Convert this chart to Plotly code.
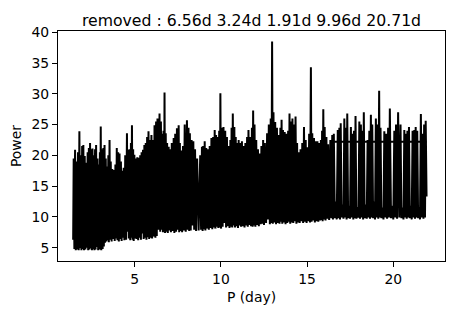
import plotly.graph_objects as go

# periodogram: alternating dips and peaks of the power curve
period_day = [
    1.43, 1.46, 1.50, 1.54, 1.58, 1.62, 1.66, 1.71, 1.75, 1.79, 1.83, 1.87, 1.91, 1.95, 1.98, 2.02,
    2.06, 2.10, 2.14, 2.18, 2.22, 2.27, 2.30, 2.34, 2.38, 2.41, 2.44, 2.48, 2.52, 2.55, 2.59, 2.63,
    2.66, 2.70, 2.73, 2.76, 2.80, 2.84, 2.88, 2.92, 2.95, 2.98, 3.00, 3.03, 3.06, 3.10, 3.14, 3.18,
    3.21, 3.25, 3.28, 3.32, 3.36, 3.40, 3.43, 3.47, 3.50, 3.54, 3.58, 3.61, 3.66, 3.70, 3.75, 3.80,
    3.84, 3.88, 3.92, 3.96, 4.00, 4.04, 4.08, 4.12, 4.16, 4.20, 4.24, 4.28, 4.32, 4.36, 4.40, 4.45,
    4.50, 4.55, 4.59, 4.63, 4.66, 4.70, 4.74, 4.78, 4.81, 4.84, 4.88, 4.91, 4.94, 4.98, 5.02, 5.07,
    5.11, 5.15, 5.20, 5.24, 5.28, 5.32, 5.36, 5.40, 5.44, 5.48, 5.52, 5.56, 5.60, 5.64, 5.68, 5.72,
    5.76, 5.80, 5.84, 5.88, 5.92, 5.97, 6.01, 6.05, 6.10, 6.15, 6.20, 6.24, 6.28, 6.32, 6.38, 6.44,
    6.48, 6.52, 6.56, 6.60, 6.64, 6.67, 6.70, 6.73, 6.76, 6.80, 6.84, 6.88, 6.92, 6.97, 7.01, 7.05,
    7.10, 7.15, 7.20, 7.26, 7.30, 7.35, 7.40, 7.45, 7.50, 7.55, 7.58, 7.62, 7.66, 7.70, 7.75, 7.80,
    7.85, 7.90, 7.96, 8.03, 8.08, 8.12, 8.16, 8.20, 8.25, 8.30, 8.35, 8.40, 8.45, 8.50, 8.56, 8.62,
    8.71, 8.80, 8.85, 8.90, 8.94, 8.97, 9.02, 9.06, 9.10, 9.15, 9.20, 9.25, 9.30, 9.35, 9.40, 9.45,
    9.50, 9.55, 9.60, 9.64, 9.68, 9.72, 9.76, 9.80, 9.85, 9.90, 9.94, 9.97, 10.01, 10.05, 10.10, 10.15,
    10.20, 10.25, 10.30, 10.35, 10.40, 10.45, 10.50, 10.55, 10.59, 10.62, 10.66, 10.69, 10.74, 10.78, 10.82, 10.86,
    10.90, 10.95, 10.99, 11.03, 11.08, 11.12, 11.17, 11.22, 11.27, 11.32, 11.37, 11.42, 11.47, 11.52, 11.56, 11.60,
    11.65, 11.70, 11.75, 11.80, 11.84, 11.87, 11.91, 11.95, 12.00, 12.05, 12.10, 12.15, 12.20, 12.25, 12.30, 12.35,
    12.40, 12.45, 12.50, 12.55, 12.62, 12.68, 12.73, 12.78, 12.84, 12.89, 12.93, 12.97, 13.01, 13.05, 13.10, 13.15,
    13.20, 13.25, 13.30, 13.35, 13.40, 13.45, 13.49, 13.52, 13.56, 13.60, 13.65, 13.70, 13.75, 13.80, 13.85, 13.90,
    13.94, 13.98, 14.02, 14.06, 14.10, 14.15, 14.20, 14.25, 14.29, 14.33, 14.38, 14.42, 14.47, 14.52, 14.57, 14.62,
    14.67, 14.72, 14.77, 14.82, 14.87, 14.92, 14.97, 15.02, 15.07, 15.12, 15.17, 15.22, 15.26, 15.30, 15.35, 15.40,
    15.45, 15.50, 15.55, 15.60, 15.65, 15.70, 15.75, 15.80, 15.84, 15.87, 15.90, 15.94, 15.98, 16.02, 16.07, 16.12,
    16.17, 16.22, 16.28, 16.35, 16.40, 16.46, 16.50, 16.55,
    16.61, 16.665, 16.72, 16.78, 16.83, 16.87, 16.91, 16.95,
    17.00, 17.055, 17.11, 17.16, 17.20, 17.25, 17.29, 17.33,
    17.38, 17.43, 17.49, 17.54, 17.59, 17.64, 17.68, 17.72, 17.77, 17.81,
    17.86, 17.92, 17.98, 18.03, 18.07, 18.12, 18.16, 18.20, 18.25, 18.29,
    18.34, 18.40, 18.46, 18.51, 18.56, 18.61, 18.65, 18.70, 18.74, 18.78,
    18.83, 18.885, 18.94, 18.99, 19.03, 19.08, 19.13, 19.18, 19.22, 19.26,
    19.31, 19.37, 19.43, 19.48, 19.53, 19.58, 19.64, 19.70, 19.75, 19.80,
    19.87, 19.93, 20.00, 20.06, 20.11, 20.16, 20.22, 20.28, 20.35, 20.42,
    20.47, 20.53, 20.59, 20.64, 20.69, 20.74, 20.78, 20.82, 20.86, 20.91,
    20.96, 21.01, 21.07, 21.12, 21.17, 21.22, 21.26, 21.30, 21.34, 21.39,
    21.44, 21.50, 21.55, 21.60, 21.65, 21.70, 21.75, 21.79, 21.84, 21.88,
    21.93,
]

power = [
    6.3, 19.5, 4.8, 20.9, 4.6, 19.0, 4.7, 20.5, 4.6, 23.9, 4.9, 20.0, 4.6, 21.5, 4.8, 21.7,
    4.6, 19.9, 4.7, 18.8, 5.0, 20.5, 4.6, 21.2, 4.7, 22.0, 4.9, 21.0, 4.6, 21.1, 4.8, 20.0,
    4.6, 21.0, 4.7, 21.7, 5.1, 19.5, 4.6, 18.5, 4.7, 20.5, 4.9, 24.7, 4.6, 21.0, 4.8, 21.2,
    5.2, 21.7, 5.8, 19.5, 6.0, 18.2, 6.2, 20.0, 5.9, 22.5, 6.3, 19.0, 6.0, 17.8, 6.4, 17.6,
    6.1, 18.5, 6.5, 21.2, 6.2, 20.5, 6.0, 20.3, 6.4, 19.0, 6.1, 17.5, 6.6, 18.0, 6.2, 20.0,
    6.3, 23.6, 7.6, 20.9, 6.5, 21.0, 6.2, 22.0, 6.6, 24.9, 6.3, 21.0, 6.1, 20.1, 6.5, 19.5,
    6.4, 19.7, 6.2, 19.6, 6.6, 20.0, 6.3, 20.5, 7.3, 20.9, 6.4, 21.7, 6.6, 22.0, 6.3, 23.0,
    6.7, 23.9, 6.4, 22.5, 6.6, 23.3, 6.5, 22.5, 6.8, 24.9, 6.6, 25.5, 6.9, 26.0, 7.9, 26.8,
    7.6, 25.5, 7.9, 23.5, 7.5, 24.0, 7.7, 30.2, 7.4, 23.6, 7.6, 22.0, 7.4, 21.4, 7.8, 21.0,
    7.5, 22.0, 7.7, 22.8, 7.4, 23.5, 7.6, 24.4, 7.9, 24.9, 7.5, 22.0, 7.7, 20.8, 7.5, 21.5,
    7.8, 25.0, 7.6, 25.7, 7.9, 24.5, 7.7, 23.6, 7.8, 22.5, 8.6, 22.3, 7.9, 21.0, 7.7, 19.5,
    7.8, 20.0, 7.9, 21.4, 7.7, 21.5, 8.0, 22.3, 7.8, 21.2, 8.1, 21.0, 7.9, 21.5, 8.2, 22.8,
    8.0, 23.0, 8.3, 24.1, 8.1, 23.3, 8.4, 23.0, 8.2, 24.0, 8.3, 30.1, 8.1, 24.5, 8.4, 24.6,
    9.0, 24.0, 8.3, 23.0, 8.5, 21.5, 8.2, 22.5, 8.4, 24.5, 8.3, 26.8, 8.6, 24.6, 8.3, 23.0,
    8.5, 22.0, 8.2, 22.5, 8.6, 22.0, 8.4, 22.3, 8.5, 21.5, 8.3, 22.0, 8.6, 23.0, 8.4, 24.1,
    8.7, 23.0, 8.5, 24.5, 8.4, 27.3, 8.6, 25.0, 8.4, 22.5, 8.7, 21.0, 8.5, 20.3, 8.8, 21.5,
    8.9, 22.5, 8.7, 22.0, 9.0, 23.6, 9.6, 25.0, 8.8, 26.0, 9.0, 38.5, 8.9, 27.0, 9.1, 25.4,
    8.8, 24.5, 9.0, 23.3, 8.9, 24.5, 9.2, 25.8, 8.9, 24.1, 9.1, 23.8, 8.8, 23.5, 9.0, 24.0,
    9.2, 26.8, 8.9, 25.5, 9.1, 26.0, 9.0, 25.0, 9.3, 26.3, 8.9, 22.0, 9.1, 20.5, 9.0, 21.0,
    9.3, 22.0, 9.0, 24.6, 9.2, 22.5, 9.0, 21.3, 9.3, 23.5, 9.1, 34.3, 9.2, 23.6, 9.4, 22.8,
    9.1, 22.3, 9.3, 22.3, 9.2, 22.0, 9.4, 22.5, 9.5, 24.0, 9.3, 27.5, 9.6, 24.6, 9.4, 23.0,
    9.7, 21.8, 9.5, 22.5, 9.8, 23.3, 9.6, 23.5,
    9.8, 12.5, 9.6, 24.1, 9.8, 24.5, 9.6, 25.2,
    9.9, 12.0, 9.7, 26.0, 9.9, 24.5, 9.6, 26.8,
    9.8, 11.8, 9.7, 24.6, 9.9, 23.5, 9.6, 24.0, 9.8, 26.4,
    9.7, 11.6, 9.9, 25.5, 9.7, 25.0, 9.9, 24.0, 9.6, 27.0,
    9.8, 12.0, 9.7, 22.5, 9.9, 24.0, 9.7, 26.6, 9.9, 25.0,
    9.8, 12.5, 9.6, 26.0, 9.9, 25.0, 9.7, 30.5, 9.9, 24.5,
    9.8, 11.5, 9.6, 23.9, 9.9, 23.5, 9.7, 24.5, 9.9, 27.6,
    9.8, 11.8, 9.6, 24.0, 9.9, 25.0, 9.7, 27.0, 9.9, 25.0,
    9.8, 11.5, 9.6, 24.1, 9.9, 23.5, 9.7, 24.0, 9.9, 24.6,
    9.8, 11.8, 9.6, 24.0, 9.9, 24.1, 9.7, 24.6, 9.9, 24.0,
    9.8, 11.6, 9.6, 26.7, 9.9, 23.5, 9.7, 25.0, 9.9, 25.6,
    13.3,
]

# flat stretch drawn across the long-period end
flat_period = [16.5, 21.93]
flat_power = [22.2, 22.2]

title_text = "removed : 6.56d 3.24d 1.91d 9.96d 20.71d"
x_ticks = [5, 10, 15, 20]
y_ticks = [5, 10, 15, 20, 25, 30, 35, 40]

fig = go.Figure()
fig.add_trace(go.Scatter(x=period_day, y=power, mode="lines",
                         line=dict(color="black", width=2), showlegend=False))
fig.add_trace(go.Scatter(x=flat_period, y=flat_power, mode="lines",
                         line=dict(color="black", width=2), showlegend=False))

font = "DejaVu Sans"
fig.update_layout(
    width=454, height=314,
    margin=dict(l=58, r=9, t=31, b=53),
    paper_bgcolor="white", plot_bgcolor="white",
    font=dict(family=font, color="black", size=13.9),
    title=dict(text=title_text, x=0.5, xref="paper", xanchor="center",
               y=1 - 21 / 314, yanchor="middle",
               font=dict(family=font, size=15.7, color="black")),
)
axis_style = dict(showgrid=False, zeroline=False, showline=True, mirror=True,
                  linecolor="black", linewidth=1, ticks="outside", ticklen=5,
                  tickwidth=1, tickcolor="black", automargin=False,
                  tickfont=dict(family=font, size=13.9, color="black"))
fig.update_xaxes(range=[0.55, 23.0], tickvals=x_ticks,
                 title=dict(text="P (day)", standoff=6,
                            font=dict(family=font, size=13.9)), **axis_style)
fig.update_yaxes(range=[2.84, 40.2], tickvals=y_ticks,
                 title=dict(text="Power", standoff=6,
                            font=dict(family=font, size=13.9)), **axis_style)

# drop the browser's default page margin so the figure sits at the window corner
fig.write_html("out.html", config={"displayModeBar": False},
               post_script="document.body.style.margin = '0';")
